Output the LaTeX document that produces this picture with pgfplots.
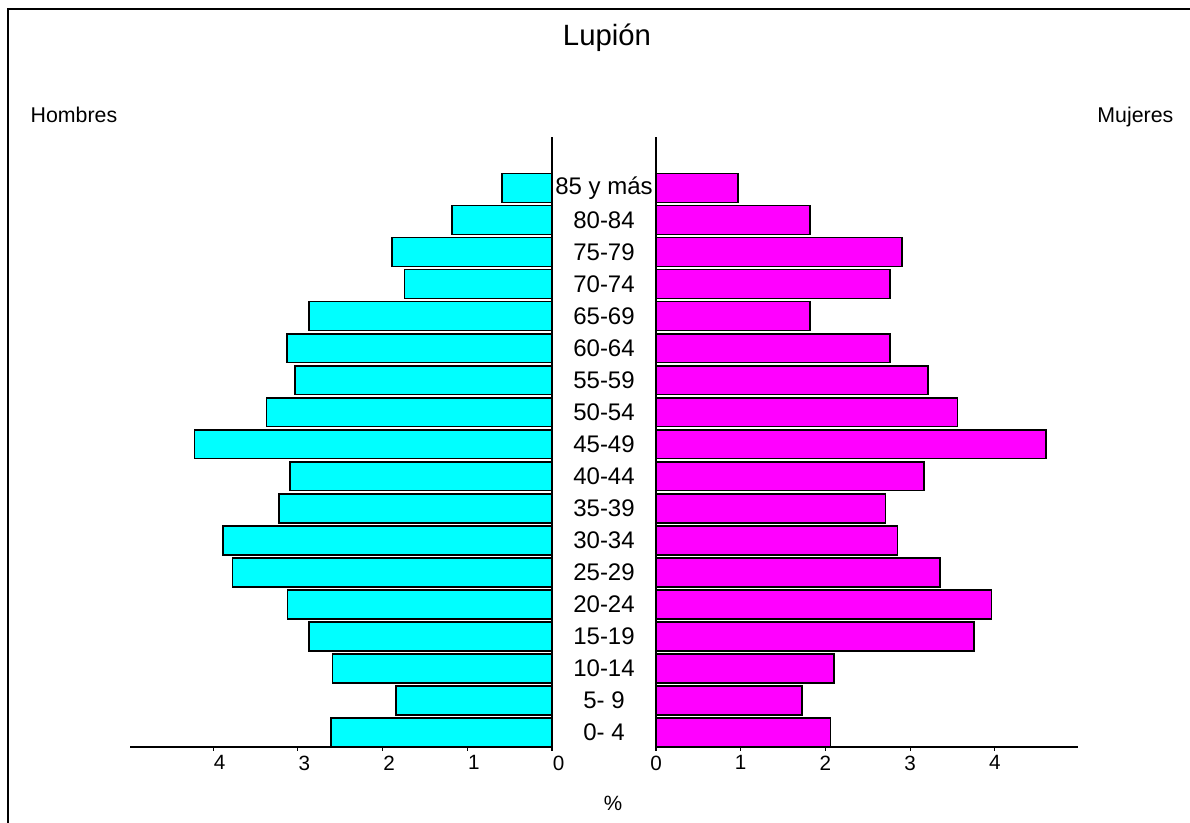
\documentclass[border=0pt]{standalone}
\usepackage{pgfplots}
\pgfplotsset{compat=1.18}
\usepackage{fontspec}
\setmainfont{Liberation Sans}
\definecolor{hom}{RGB}{0,255,255}
\definecolor{muj}{RGB}{255,0,255}

\pgfplotsset{pyr/.style={
  scale only axis, width=316.5pt, height=457.5pt,
  xmin=0, xmax=4.98, ymin=-0.45, ymax=18.59,
  axis x line=bottom, axis y line=none,
  axis line style={-, line width=1pt},
  xtick={0,...,4}, ytick=\empty,
  tick align=outside, major tick length=3pt,
  tick style={black, line width=0.8pt},
  tick label style={font=\fontsize{15.5}{17}\selectfont},
  /pgf/number format/assume math mode=true,
  clip=false,
  xbar, bar width=0.9,
}}

\begin{document}
\begin{tikzpicture}[x=0.75pt,y=0.75pt]
\useasboundingbox (0,0) rectangle (1190,823);
\draw[line width=1.5pt] (8,0) -- (8,814) -- (1190,814);

% Hombres
\begin{axis}[pyr, x dir=reverse, at={(414pt,57pt)}, anchor=south east,
  xticklabel style={xshift=5pt}]
\addplot[fill=hom, draw=black, line width=1.2pt] coordinates {
  (2.61,0) (1.84,1) (2.59,2) (2.87,3) (3.12,4) (3.77,5) (3.88,6) (3.22,7) (3.09,8)
  (4.22,9) (3.37,10) (3.03,11) (3.13,12) (2.87,13) (1.74,14) (1.89,15) (1.18,16) (0.59,17)
};
\draw[line width=1pt] (axis cs:0,-0.45) -- (axis cs:0,18.59);
\end{axis}

% Mujeres
\begin{axis}[pyr, at={(492pt,57pt)}, anchor=south west]
\addplot[fill=muj, draw=black, line width=1.2pt] coordinates {
  (2.06,0) (1.72,1) (2.10,2) (3.75,3) (3.96,4) (3.35,5) (2.85,6) (2.71,7) (3.16,8)
  (4.60,9) (3.56,10) (3.21,11) (2.76,12) (1.82,13) (2.76,14) (2.90,15) (1.82,16) (0.965,17)
};
\draw[line width=1pt] (axis cs:0,-0.45) -- (axis cs:0,18.59);
\end{axis}

\foreach \lab [count=\i from 0] in {0- 4,5- 9,10-14,15-19,20-24,25-29,30-34,35-39,40-44,45-49,50-54,55-59,60-64,65-69,70-74,75-79,80-84,85 y más}
  \node[fill=white, inner sep=0.5pt, font=\fontsize{18}{20}\selectfont] at (604,{90.5+32.03*\i}) {\lab};

\node[font=\fontsize{22}{24}\selectfont] at (607,785) {Lupión};
\node[font=\fontsize{16}{18}\selectfont, anchor=base west] at (26,700) {Hombres};
\node[font=\fontsize{16}{18}\selectfont, anchor=base east] at (1178,700) {Mujeres};
\node[font=\fontsize{15.5}{17}\selectfont] at (613,20) {\%};
\end{tikzpicture}
\end{document}
